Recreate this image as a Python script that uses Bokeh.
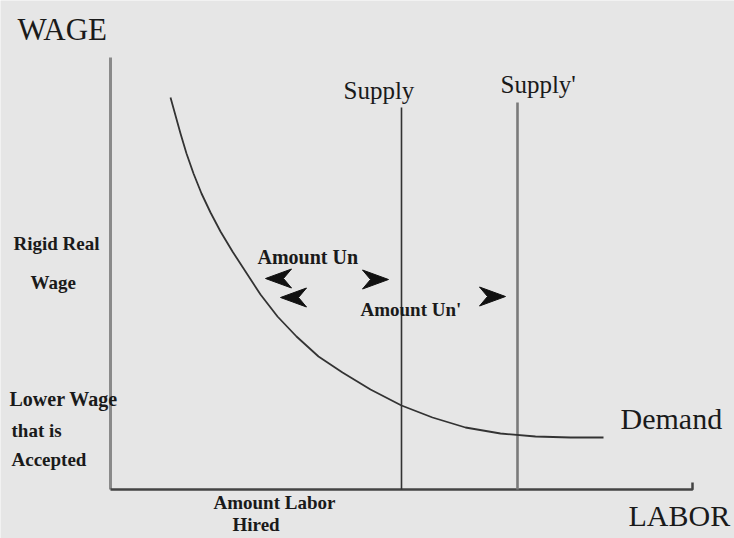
from bokeh.plotting import figure
from bokeh.models import Range1d
from bokeh.core.properties import value
from bokeh.embed import file_html
from bokeh.resources import INLINE

# ---- data (labor units on x, wage units on y) ----
demand_labor = [6.0, 6.5, 7.0, 7.6, 8.3, 9.1, 10.0, 11.0, 12.2, 13.5, 15.0, 16.7, 18.6,
                20.8, 23.2, 26.0, 29.1, 32.2, 35.5, 39.0, 42.5, 46.0, 49.3]
demand_wage = [39.2, 37.4, 35.6, 33.6, 31.6, 29.6, 27.7, 25.8, 23.8, 21.8, 19.5, 17.3, 15.3,
               13.3, 11.7, 10.0, 8.4, 7.2, 6.2, 5.6, 5.3, 5.2, 5.2]

supply_labor = 29.1
supply_top = 38.2
supply2_labor = 40.7
supply2_top = 38.7

axis_x_end = 58.2
axis_y_end = 43.2
axis_end_tick = 0.7

arrow_tip_x = [15.5, 17.0, 27.8, 39.5]
arrow_tip_y = [21.1, 19.2, 21.0, 19.3]
arrow_dir = [-1, -1, 1, 1]

labels = ["WAGE", "Supply", "Supply'", "Rigid Real", "Wage", "Lower  Wage", "that is",
          "Accepted", "Amount  Un", "Amount Un'", "Demand", "Amount Labor", "Hired", "LABOR"]
label_x = [-9.3, 23.3, 39.0, -9.7, -8.0, -10.1, -9.9, -9.9, 14.7, 25.0, 51.0, 10.3, 12.2, 51.8]
label_y = [46.0, 39.9, 40.5, 24.6, 20.7, 9.1, 5.9, 3.0, 23.3, 18.0, 7.1, -1.3, -3.5, -2.6]
label_size = ["31px", "25px", "25px", "19px", "19px", "20px", "19px", "19px", "20px",
              "19px", "30px", "19px", "19px", "30px"]
label_style = ["normal", "normal", "normal", "bold", "bold", "bold", "bold", "bold",
               "bold", "bold", "normal", "bold", "bold", "normal"]

BG = "#e6e6e6"

p = figure(width=734, height=538, output_backend="svg", toolbar_location=None,
           x_range=Range1d(-11.0, 62.4), y_range=Range1d(-4.9, 48.9),
           min_border=0, background_fill_color=BG, border_fill_color=BG,
           outline_line_color=None)
p.axis.visible = False
p.grid.visible = False

# axes drawn as lines
p.line([0, 0], [0, axis_y_end], line_color="#8a8a8a", line_width=3)
p.line([0, axis_x_end, axis_x_end], [0, 0, axis_end_tick], line_color="#444444", line_width=2.5)

# supply lines
p.line([supply_labor, supply_labor], [0, supply_top], line_color="#333333", line_width=1.6)
p.line([supply2_labor, supply2_labor], [0, supply2_top], line_color="#7a7a7a", line_width=2.6)

# demand curve
p.line(demand_labor, demand_wage, line_color="#333333", line_width=1.8, line_join="round")

# notched arrowheads built around each tip (shape sizes in data units)
L, N, W = 2.6, 1.8, 0.95
head_xs = [[x, x - d * L, x - d * N, x - d * L] for x, d in zip(arrow_tip_x, arrow_dir)]
head_ys = [[y, y + W, y, y - W] for y in arrow_tip_y]
p.patches(head_xs, head_ys, fill_color="#111111", line_color="#111111", line_width=1)

# labels
for t, x, y, s, st in zip(labels, label_x, label_y, label_size, label_style):
    p.text(x=[x], y=[y], text=[t], text_font=value("Liberation Serif"),
           text_font_size=s, text_font_style=st, text_color="#1a1a1a",
           text_baseline="middle", text_align="left")

html = file_html(p, INLINE)
html = html.replace("<body>", '<body style="background-color:%s;">' % BG, 1)
open("out.html", "w").write(html)
